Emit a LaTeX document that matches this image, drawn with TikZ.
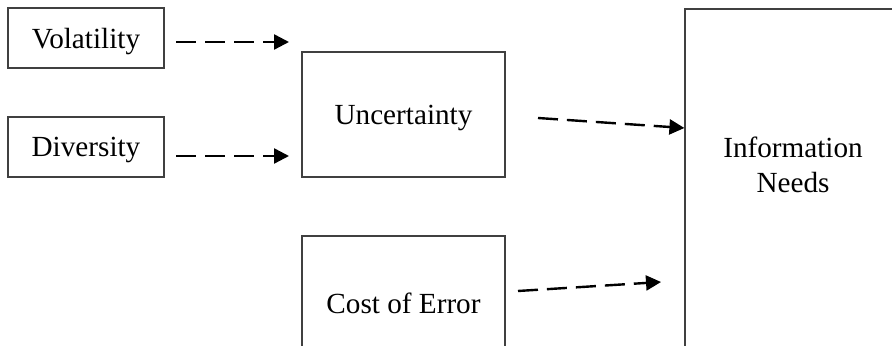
\documentclass[tikz,border=0pt]{standalone}
\usepackage{fontspec}
\setmainfont{Liberation Serif}
\usepackage{tikz}
\usetikzlibrary{positioning,calc}
\usetikzlibrary{arrows.meta}
\definecolor{BoxLine}{RGB}{64,64,64}
\tikzset{
  factor/.style={draw=BoxLine,line width=0.6pt,fill=white,inner sep=0pt,
    font=\fontsize{14.6}{17.5}\selectfont,align=center,text depth=0pt},
  influence/.style={draw=black,line width=1.2pt,dash pattern=on 10pt off 4.5pt,
    -{Triangle[length=7.5pt,width=7.5pt]}},
}

\begin{document}
\begin{tikzpicture}[x=0.5pt,y=-0.5pt]
\useasboundingbox (0,0) rectangle (892,346);
\clip (0,0) rectangle (892,346);
\node[factor,minimum width=78pt,minimum height=30pt] (vol) at (86,38) {Volatility};
\node[factor,minimum width=78pt,minimum height=30pt] (div) at (86,147) {Diversity};
\node[factor,minimum width=101.5pt,minimum height=62.5pt] (unc) at (403.5,114.5) {Uncertainty};
\node[factor,minimum width=101.5pt,minimum height=67pt] (cost) at (403.5,303) {Cost of Error};
\node[factor,minimum width=108pt,minimum height=195.5pt] (info) at (793,204.5) {};
\node[font=\fontsize{14.6}{17.5}\selectfont,align=center] (infotext) at (793,165) {Information\\Needs};
% arrow ends
\coordinate (v1) at (176,42);
\coordinate (v2) at (289,42);
\coordinate (d1) at (176,156);
\coordinate (d2) at (289,156);
\coordinate (u1) at (538,118);
\coordinate (c1) at (518,291);
\coordinate (c2) at (661,282);
\draw[influence] (v1) -- (v2);
\draw[influence] (d1) -- (d2);
\draw[influence] (u1) -- (info.west |- 0,128);
\draw[influence] (c1) -- (c2);
\end{tikzpicture}
\end{document}
